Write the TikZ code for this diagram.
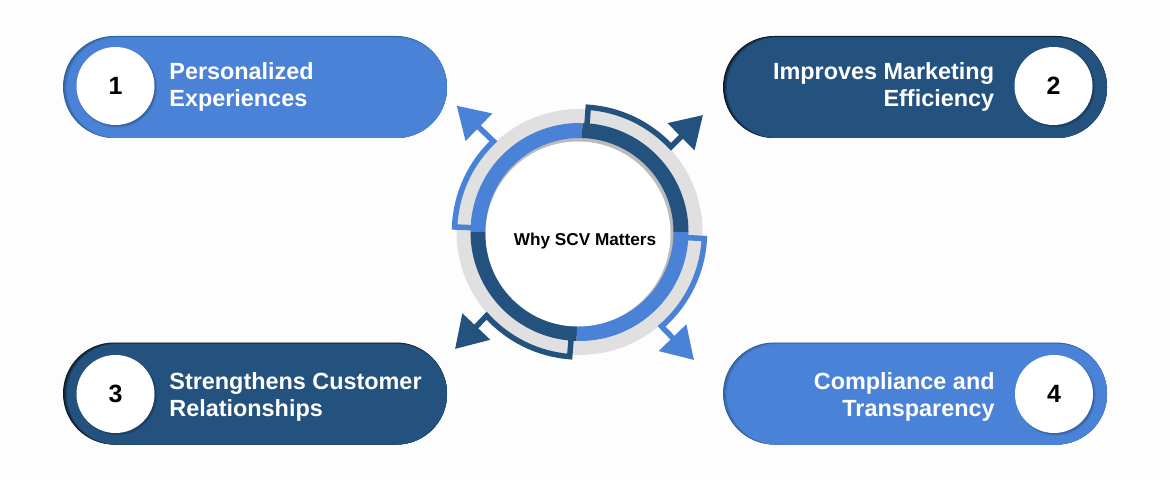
\documentclass[tikz,border=0pt]{standalone}
\usepackage{fontspec}
\setmainfont{Liberation Sans}
\usetikzlibrary{positioning, calc, arrows.meta, shapes.misc}
\definecolor{lightblue}{HTML}{4A82D7}
\definecolor{darkblue}{HTML}{24527F}
\definecolor{ringgray}{HTML}{E0E0E0}
\definecolor{ringshade}{HTML}{BBBBBB}
\definecolor{paper}{HTML}{FDFDFD}
\tikzset{
pill/.style={rounded rectangle, minimum width=384pt, minimum height=102pt, inner sep=0pt}, % the long bars
badge/.style={circle, fill=white, minimum size=78pt, inner sep=0pt, font=\fontsize{25}{25}\selectfont\bfseries},
badgeshade/.style={circle, fill=black, opacity=0.12, minimum size=78pt, inner sep=0pt},
barlabel/.style={text=white, inner sep=0pt, font=\fontsize{23.4}{27}\selectfont\bfseries},
ringpart/.style={line width=15pt}, % coloured quarter of the ring
flow/.style={line width=5.5pt, line join=miter, -{Triangle[length=31pt, width=37pt]}},
}

\begin{document}
\begin{tikzpicture}[x=1pt, y=1pt]
        \fill[paper] (0,0) rectangle (1170,480);
        \useasboundingbox (0,0) rectangle (1170,480);

        % the four bars, shade first
        \foreach \name/\x/\y/\col/\shade in {1/255/393/lightblue/darkblue, 2/915/393/darkblue/black, 3/255/86.5/darkblue/black, 4/915/86.5/lightblue/darkblue} {
            \node[pill, fill=\shade!70!\col] (p\name) at (\x,\y) {};
            \foreach \i in {1,...,4} {
                \node[pill, fill=\col!\the\numexpr 30+\i*70/4\relax!\shade, minimum width=(384-\i)*1pt, minimum height=(102-0.4*\i)*1pt] at (\x+0.5*\i,\y-0.2*\i) {};
            }
        }

        % numbers
        \foreach \name/\x/\y in {1/115.5/394, 2/1053.5/394, 3/115.5/86, 4/1054/86} {
            \node[badgeshade, minimum size=80pt] at (\x+1.5,\y-1.5) {};
            \node[badgeshade] at (\x+1.5,\y-1.5) {};
            \node[badge] (n\name) at (\x,\y) {\name};
        }

        \node[barlabel, align=left, right=14.5pt of n1, yshift=-1pt] (t1) {Personalized\\Experiences};
        \node[barlabel, align=right, left=20pt of n2, yshift=-1pt] (t2) {Improves Marketing\\Efficiency};
        \node[barlabel, align=left, right=14.5pt of n3, yshift=-3pt] (t3) {Strengthens Customer\\Relationships};
        \node[barlabel, align=right, left=20pt of n4, yshift=-3pt] (t4) {Compliance and\\Transparency};

        % ring
        \coordinate (c) at (579.5,248);
        \fill[ringgray] (c) circle[radius=123];
        \fill[ringshade] (c) circle[radius=95];
        \draw[ringpart, lightblue] ($(c)+(88.5:101.5)$) arc[start angle=88.5, end angle=180, radius=101.5];
        \draw[ringpart, darkblue] ($(c)+(0:101.5)$) arc[start angle=0, end angle=88.5, radius=101.5];
        \draw[ringpart, darkblue] ($(c)+(180:101.5)$) arc[start angle=180, end angle=268.5, radius=101.5];
        \draw[ringpart, lightblue] ($(c)+(268.5:101.5)$) arc[start angle=268.5, end angle=360, radius=101.5];
        \node[circle, fill=white, minimum size=185pt, inner sep=0pt] (m) at (578,246) {};
        \node[font=\fontsize{17.2}{18}\selectfont\bfseries, inner sep=0pt] (why) at (585,239) {Why SCV Matters};

        % arrows
        \coordinate (tip1) at (456.7,374.3);
        \coordinate (tip2) at (703,365);
        \coordinate (tip3) at (455,131);
        \coordinate (tip4) at (694,120);
        \draw[flow, lightblue] ($(c)+(177.7:108)$) -- ($(c)+(177.7:125)$) arc[start angle=177.7, end angle=133.5, radius=125] -- (tip1);
        \draw[flow, darkblue] ($(c)+(86:108)$) -- ($(c)+(86:125)$) arc[start angle=86, end angle=43, radius=125] -- (tip2);
        \draw[flow, darkblue] ($(c)+(265.5:108)$) -- ($(c)+(265.5:125)$) arc[start angle=265.5, end angle=222, radius=125] -- (tip3);
        \draw[flow, lightblue] ($(c)+(-3:108)$) -- ($(c)+(-3:125)$) arc[start angle=-3, end angle=-49, radius=125] -- (tip4);
\end{tikzpicture}
\end{document}
